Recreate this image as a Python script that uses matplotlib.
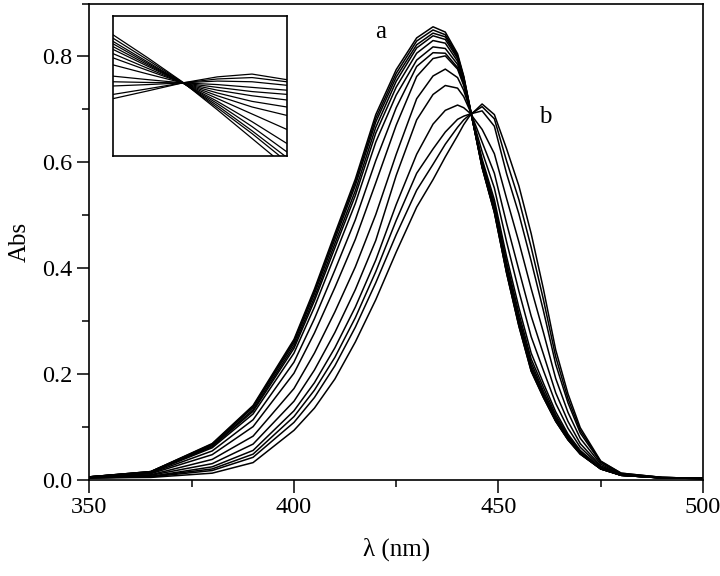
import matplotlib
matplotlib.use("Agg")
import matplotlib.pyplot as plt
from matplotlib.ticker import MultipleLocator

plt.rcParams['font.family'] = ['Liberation Serif', 'DejaVu Serif']

# wavelength grid (nm) and absorbance, curve a -> curve b
wl = [350, 365, 380, 390, 400, 405, 410, 415, 420, 425, 430, 434, 437, 440, 441.5,
      443, 446, 449, 452, 455, 458, 461, 464, 467, 470, 475, 480, 490, 500]

curve_a  = [.005, .015, .068, .140, .265, .360, .465, .568, .690, .775, .835, .856, .846, .805, .763,
            .705, .590, .505, .390, .290, .205, .155, .110, .075, .048, .020, .008, .003, .002]
curve_02 = [.005, .015, .067, .138, .262, .356, .460, .562, .683, .768, .829, .850, .841, .802, .761,
            .705, .590, .505, .390, .290, .205, .155, .110, .075, .048, .020, .008, .003, .002]
curve_03 = [.005, .015, .066, .136, .258, .351, .454, .556, .676, .761, .822, .844, .837, .799, .760,
            .704, .591, .507, .392, .293, .208, .157, .111, .076, .049, .020, .008, .003, .002]
curve_04 = [.005, .014, .064, .132, .253, .344, .446, .546, .666, .753, .816, .839, .832, .796, .758,
            .704, .592, .509, .395, .295, .210, .159, .113, .077, .049, .020, .008, .003, .002]
curve_05 = [.005, .014, .062, .129, .248, .338, .438, .537, .655, .742, .806, .830, .825, .791, .755,
            .703, .595, .512, .399, .301, .215, .163, .115, .079, .050, .021, .008, .003, .002]
curve_06 = [.005, .013, .060, .124, .239, .326, .424, .522, .638, .727, .793, .818, .815, .785, .752,
            .703, .597, .516, .404, .306, .221, .167, .118, .080, .051, .021, .008, .003, .002]
curve_07 = [.004, .012, .054, .113, .222, .304, .396, .491, .603, .703, .781, .807, .806, .779, .748,
            .702, .601, .522, .411, .314, .228, .174, .122, .083, .053, .022, .008, .003, .002]
curve_08 = [.004, .011, .047, .100, .201, .277, .363, .454, .561, .670, .762, .796, .801, .776, .745,
            .701, .606, .529, .421, .325, .239, .182, .128, .086, .055, .022, .009, .003, .002]
curve_09 = [.004, .009, .038, .082, .172, .239, .317, .402, .501, .615, .720, .763, .776, .760, .736,
            .700, .620, .551, .449, .356, .270, .206, .144, .097, .061, .024, .009, .003, .002]
curve_10 = [.004, .008, .030, .067, .148, .207, .278, .359, .452, .575, .680, .728, .745, .740, .724,
            .698, .638, .579, .484, .396, .309, .237, .164, .110, .068, .026, .010, .003, .002]
curve_11 = [.003, .006, .024, .055, .130, .183, .249, .326, .415, .520, .615, .672, .698, .708, .703,
            .693, .662, .616, .531, .449, .361, .278, .191, .127, .078, .029, .010, .004, .002]
curve_12 = [.003, .006, .020, .048, .119, .169, .231, .306, .393, .490, .579, .625, .657, .681, .687,
            .691, .697, .668, .578, .502, .413, .319, .218, .145, .088, .032, .011, .004, .002]
curve_13 = [.003, .005, .017, .042, .108, .155, .215, .288, .372, .463, .547, .596, .634, .666, .680,
            .690, .705, .682, .602, .529, .439, .340, .232, .153, .093, .034, .012, .004, .002]
curve_b  = [.003, .004, .012, .032, .093, .135, .190, .260, .340, .430, .515, .567, .610, .650, .671,
            .688, .710, .690, .625, .555, .465, .360, .245, .162, .098, .035, .012, .004, .002]

# inset: relative position across the box and relative height of each curve
inset_x = [0.0, 0.2, 0.4, 0.6, 0.8, 1.0]
inset_a  = [.864, .700, .528, .330, .125, -.080]
inset_02 = [.840, .685, .525, .345, .160, -.040]
inset_03 = [.817, .670, .522, .360, .180, -.010]
inset_04 = [.800, .660, .522, .375, .210, .030]
inset_05 = [.780, .650, .522, .390, .245, .090]
inset_06 = [.760, .640, .522, .410, .300, .190]
inset_07 = [.730, .625, .522, .430, .350, .290]
inset_08 = [.700, .610, .522, .450, .390, .350]
inset_09 = [.650, .585, .522, .470, .430, .400]
inset_10 = [.570, .545, .522, .490, .460, .440]
inset_11 = [.530, .525, .522, .510, .490, .470]
inset_12 = [.500, .510, .522, .535, .530, .505]
inset_13 = [.440, .480, .522, .550, .560, .530]
inset_b  = [.410, .465, .522, .565, .585, .545]

curves = [curve_a, curve_02, curve_03, curve_04, curve_05, curve_06, curve_07,
          curve_08, curve_09, curve_10, curve_11, curve_12, curve_13, curve_b]
inset_curves = [inset_a, inset_02, inset_03, inset_04, inset_05, inset_06, inset_07,
                inset_08, inset_09, inset_10, inset_11, inset_12, inset_13, inset_b]

fig = plt.figure(figsize=(7.2, 5.76), dpi=100)
ax = fig.add_axes([0.1243, 0.1675, 0.852, 0.8264])

for y in curves:
    ax.plot(wl, y, color='black', lw=1.1)

ax.set_xlim(350, 500)
ax.set_ylim(0, 0.9)
ax.xaxis.set_major_locator(MultipleLocator(50))
ax.xaxis.set_minor_locator(MultipleLocator(25))
ax.yaxis.set_major_locator(MultipleLocator(0.2))
ax.yaxis.set_minor_locator(MultipleLocator(0.1))
ax.yaxis.set_major_formatter(plt.FuncFormatter(lambda v, p: f"{v:.1f}"))
ax.tick_params(which='both', direction='out', top=False, right=False,
               labelsize=17.5, width=1.1, color='black')
ax.tick_params(which='major', length=9)
ax.tick_params(which='minor', length=5)
for s in ax.spines.values():
    s.set_linewidth(1.2)

ax.set_xlabel("λ (nm)", fontsize=18, labelpad=14)
ax.set_ylabel("Abs", fontsize=18, labelpad=8)

ax.text(421.3, 0.847, "a", fontsize=18, ha='center', va='center')
ax.text(461.4, 0.685, "b", fontsize=18, ha='center', va='center')

# inset
axin = fig.add_axes([0.1574, 0.7292, 0.2408, 0.2431])
for y in inset_curves:
    axin.plot(inset_x, y, color='black', lw=0.9)
axin.set_xlim(0, 1)
axin.set_ylim(0, 1)
axin.set_xticks([])
axin.set_yticks([])
for s in axin.spines.values():
    s.set_linewidth(1.2)

fig.savefig("out.png", dpi=100)
